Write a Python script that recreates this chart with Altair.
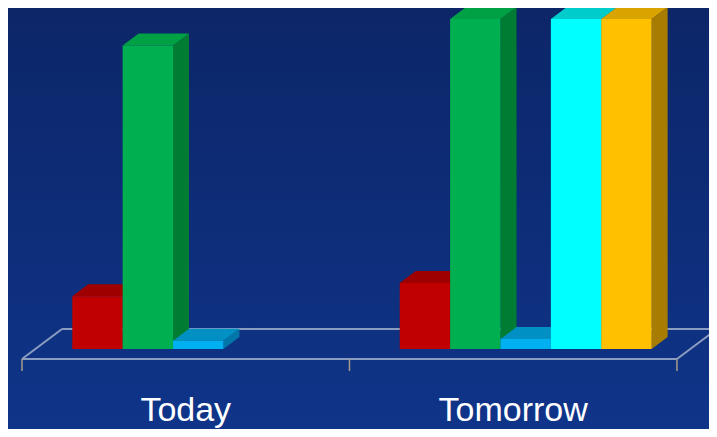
import altair as alt
import pandas as pd

# ---- data ----
categories = ["Today", "Tomorrow"]
series = ["S1", "S2", "S3", "S4", "S5"]
values_today = [16, 92, 2.5, None, None]
values_tomorrow = [20, 100, 3, 100, 100]

front_colors = ["#c00000", "#00b050", "#00b0f0", "#00ffff", "#ffc000"]
top_colors = ["#9e0000", "#00a045", "#0090c4", "#00cccc", "#d9a400"]
side_colors = ["#860000", "#007d32", "#0077a8", "#00a8a8", "#a87c00"]

# ---- layout constants (pixels per unit) ----
W, H = 701, 421
PX_X = 50.38          # pixels per bar slot
PX_Y = 3.3            # pixels per value unit
SLOTS_PER_CAT = 6.5
GAP = 0.72
BAR_SHIFT = 14 / PX_X
DDX, DDY = 16 / PX_X, 12 / PX_Y          # bar depth
FY, FDX, FDY = -10 / PX_Y, 40 / PX_X, 30 / PX_Y  # floor
LABEL_Y = -72 / PX_Y

XD = [-14 / PX_X, (W - 14) / PX_X]
YD = [-(H - 341) / PX_Y, 341 / PX_Y]
xs = alt.Scale(domain=XD, nice=False, zero=False)
ys = alt.Scale(domain=YD, nice=False, zero=False)

# ---- build face tables ----
front, side, top = [], [], []
for ci, vals in enumerate([values_today, values_tomorrow]):
    for si, v in enumerate(vals):
        if v is None:
            continue
        bid = f"{ci}-{si}"
        x0 = ci * SLOTS_PER_CAT + GAP + si + BAR_SHIFT
        x1 = x0 + 1
        front.append(dict(bid=bid, x=x0, x2=x1, y=0, y2=v, c=front_colors[si]))
        side.append(dict(bid=bid, x=x1, y=0, y2=v, c=side_colors[si]))
        side.append(dict(bid=bid, x=x1 + DDX, y=DDY, y2=v + DDY, c=side_colors[si]))
        top.append(dict(bid=bid, y=v, x=x0, x2=x1, c=top_colors[si]))
        top.append(dict(bid=bid, y=v + DDY, x=x0 + DDX, x2=x1 + DDX, c=top_colors[si]))

front_df = pd.DataFrame(front)
side_df = pd.DataFrame(side)
top_df = pd.DataFrame(top)

n_cat = len(categories)
end = n_cat * SLOTS_PER_CAT
floor_df = pd.DataFrame([
    dict(x=0, x2=end, y=FY, y2=FY),
    dict(x=FDX, x2=end + FDX, y=FY + FDY, y2=FY + FDY),
    dict(x=0, x2=FDX, y=FY, y2=FY + FDY),
    dict(x=end, x2=end + FDX, y=FY, y2=FY + FDY),
])
tick_df = pd.DataFrame([dict(x=i * SLOTS_PER_CAT, y=FY, y2=FY - 12 / PX_Y) for i in range(n_cat + 1)])
label_df = pd.DataFrame([dict(label=c, x=(i + 0.5) * SLOTS_PER_CAT, y=LABEL_Y) for i, c in enumerate(categories)])
bg_df = pd.DataFrame([dict(x=XD[0], x2=XD[1], y=YD[0], y2=YD[1])])

X = lambda f="x": alt.X(f"{f}:Q", scale=xs, axis=None)
Y = lambda f="y": alt.Y(f"{f}:Q", scale=ys, axis=None)

bg = alt.Gradient(
    gradient="linear", x1=0, x2=0, y1=0, y2=1,
    stops=[alt.GradientStop(color="#0c2668", offset=0), alt.GradientStop(color="#0f3489", offset=1)],
)
background = alt.Chart(bg_df).mark_rect(color=bg).encode(x=X(), x2="x2:Q", y=Y(), y2="y2:Q")

floor = alt.Chart(floor_df).mark_rule(color="#8a9cc0", strokeWidth=2).encode(
    x=X(), x2="x2:Q", y=Y(), y2="y2:Q")
ticks = alt.Chart(tick_df).mark_rule(color="#a59d8a", strokeWidth=1.5).encode(
    x=X(), y=Y(), y2="y2:Q")
sides = alt.Chart(side_df).mark_area(orient="vertical").encode(
    x=X(), y=Y(), y2="y2:Q", detail="bid:N", color=alt.Color("c:N", scale=None))
tops = alt.Chart(top_df).mark_area(orient="horizontal").encode(
    y=Y(), x=X(), x2="x2:Q", detail="bid:N", color=alt.Color("c:N", scale=None))
fronts = alt.Chart(front_df).mark_rect().encode(
    x=X(), x2="x2:Q", y=Y(), y2="y2:Q", color=alt.Color("c:N", scale=None))
labels = alt.Chart(label_df).mark_text(
    font="Liberation Sans", fontSize=34, color="white", baseline="alphabetic", align="center"
).encode(x=X(), y=Y(), text="label:N")

chart = alt.layer(background, floor, ticks, sides, tops, fronts, labels).properties(
    width=W, height=H, padding=0, autosize=alt.AutoSizeParams(type="none"),
    background="#0d2b73",
).configure_view(stroke=None)

chart.save("out.html", embed_options={"renderer": "svg", "actions": False})
